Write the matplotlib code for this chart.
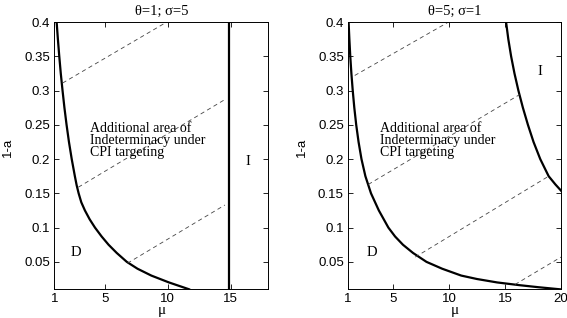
import matplotlib
matplotlib.use("Agg")
import matplotlib.pyplot as plt

plt.rcParams['font.family'] = ['Liberation Sans', 'DejaVu Sans']

# left panel: theta=1, sigma=5
mu_d_left = [1.17, 1.27, 1.38, 1.50, 1.64, 1.79, 1.96, 2.15, 2.37, 2.62, 2.76, 2.92, 3.13, 3.42,
             3.8, 4.22, 4.75, 5.3, 5.95, 6.75, 7.6, 8.7, 10.1, 11.7]
y_d_left = [0.40, 0.375, 0.35, 0.325, 0.30, 0.275, 0.25, 0.225, 0.20, 0.175, 0.162, 0.15, 0.137, 0.125,
            0.112, 0.10, 0.087, 0.075, 0.063, 0.05, 0.04, 0.03, 0.02, 0.01]
mu_i_left = [14.85, 14.85]
y_i_left = [0.01, 0.40]
dash_left = [((1.65, 9.93), (0.311, 0.40)),
             ((2.9, 14.47), (0.159, 0.286)),
             ((6.8, 14.55), (0.048, 0.133))]

# right panel: theta=5, sigma=1
mu_d_right = [1.05, 1.12, 1.20, 1.30, 1.42, 1.56, 1.73, 1.94, 2.2, 2.55, 3.05, 3.75, 4.6,
              5.2, 5.9, 6.8, 8.0, 9.4, 11.1, 12.5, 14.3, 16.3, 18.0, 19.9]
y_d_right = [0.40, 0.375, 0.35, 0.325, 0.30, 0.275, 0.25, 0.225, 0.20, 0.175, 0.15, 0.125, 0.10,
             0.087, 0.075, 0.063, 0.05, 0.04, 0.03, 0.025, 0.02, 0.016, 0.013, 0.01]
mu_i_right = [15.1, 15.3, 15.55, 15.85, 16.2, 16.6, 17.05, 17.55, 18.15, 18.9, 19.5, 20.0]
y_i_right = [0.40, 0.375, 0.35, 0.325, 0.30, 0.275, 0.25, 0.225, 0.20, 0.175, 0.163, 0.154]
dash_right = [((1.6, 9.97), (0.322, 0.40)),
              ((2.81, 16.3), (0.163, 0.294)),
              ((7.0, 18.9), (0.057, 0.175)),
              ((15.9, 20.0), (0.017, 0.057))]

note = "Additional area of\nIndeterminacy under\nCPI targeting"
serif = ['Liberation Serif', 'DejaVu Serif']

fig = plt.figure(figsize=(5.67, 3.18), dpi=100)
ax1 = fig.add_axes([0.0961, 0.0903, 0.3771, 0.8405])
ax2 = fig.add_axes([0.6138, 0.0903, 0.3756, 0.8405])

panels = [
    (ax1, mu_d_left, y_d_left, mu_i_left, y_i_left, dash_left, (1, 18), [1, 5, 10, 15],
     "θ=1; σ=5", (3.82, 2.71, 16.4), 0.197),
    (ax2, mu_d_right, y_d_right, mu_i_right, y_i_right, dash_right, (1, 20), [1, 5, 10, 15, 20],
     "θ=5; σ=1", (3.85, 3.11, 18.1), 0.328),
]

for ax, mx, my, ix, iy, dashes, xl, xt, ttl, tx, iyl in panels:
    ax.plot(mx, my, color='black', lw=1.6, solid_joinstyle='round')
    ax.plot(ix, iy, color='black', lw=1.6, solid_joinstyle='round')
    for dx, dy in dashes:
        ax.plot(dx, dy, color='#444444', lw=0.6, linestyle=(0, (5, 4)))
    ax.set_xlim(*xl)
    ax.set_ylim(0.01, 0.4)
    ax.set_xticks(xt)
    ax.set_yticks([0.05, 0.1, 0.15, 0.2, 0.25, 0.3, 0.35, 0.4])
    ax.set_yticklabels(['0.05', '0.1', '0.15', '0.2', '0.25', '0.3', '0.35', '0.4'])
    ax.tick_params(direction='in', top=True, right=True, length=3.5, width=0.6,
                   labelsize=9.5, pad=3)
    for s in ax.spines.values():
        s.set_linewidth(0.7)
    ax.set_title(ttl, family=serif, fontsize=10.5, pad=5)
    ax.set_xlabel("μ", family=serif, fontsize=11, labelpad=-1)
    ax.set_ylabel("1-a", fontsize=9.5)
    ax.yaxis.set_label_coords(-0.19, 0.53)
    ax.text(tx[0], 0.254, note, family=serif, fontsize=10, va='top', ha='left',
            linespacing=0.88)
    ax.text(tx[1], 0.063, "D", family=serif, fontsize=10.5, va='center', ha='center')
    ax.text(tx[2], iyl, "I", family=serif, fontsize=10.5, va='center', ha='center')

fig.savefig("out.png", dpi=100)
